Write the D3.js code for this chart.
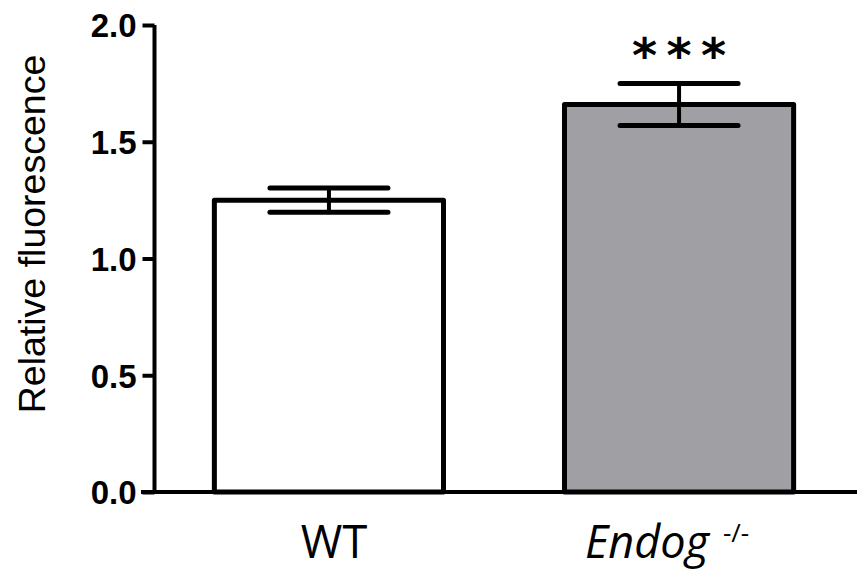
<!DOCTYPE html>
<html><head><meta charset="utf-8">
<script src="https://cdn.jsdelivr.net/npm/d3@7"></script>
<style>body{margin:0;background:#fff}svg{display:block}</style>
</head><body>
<script>
const categories = ["WT", "Endog"];
const means = [1.25, 1.66];
const errors = [0.052, 0.09];
const fills = ["#ffffff", "#a0a0a4"];
const yTicks = [0, 0.5, 1.0, 1.5, 2.0];
const sigLabels = ["", "***"];

const W = 857, H = 571;
const svg = d3.select("body").append("svg").attr("width", W).attr("height", H);

const y = d3.scaleLinear().domain([0, 2]).range([492, 25]);
const x = d3.scaleBand().domain(categories).range([153, 855]).paddingInner(0.337).paddingOuter(0.171);

// bars
svg.selectAll("rect.bar").data(categories).enter().append("rect")
  .attr("x", d => x(d) + 1.5)
  .attr("width", x.bandwidth() - 3)
  .attr("y", (d, i) => y(means[i]))
  .attr("height", (d, i) => y(0) - y(means[i]))
  .attr("fill", (d, i) => fills[i])
  .attr("stroke", "#000").attr("stroke-width", 5).attr("stroke-linejoin", "round");

// error bars
const capW = 118;
categories.forEach((c, i) => {
  const cx = x(c) + x.bandwidth() / 2;
  const g = svg.append("g").attr("stroke", "#000").attr("stroke-linecap", "round");
  g.append("line").attr("x1", cx).attr("x2", cx).attr("y1", y(means[i] + errors[i])).attr("y2", y(means[i] - errors[i])).attr("stroke-width", 4);
  [means[i] + errors[i], means[i] - errors[i]].forEach(v => {
    g.append("line").attr("x1", cx - capW / 2).attr("x2", cx + capW / 2).attr("y1", y(v)).attr("y2", y(v)).attr("stroke-width", 5);
  });
  if (sigLabels[i]) {
    const st = svg.append("g");
    sigLabels[i].split("").forEach((s, k) => {
      st.append("text").attr("x", cx - 34.5 + k * 34.5).attr("y", y(means[i] + errors[i]) - 11)
        .attr("text-anchor", "middle").attr("font-family", "DejaVu Sans, sans-serif")
        .attr("font-weight", "bold").attr("font-size", 48).text(s);
    });
  }
});

// y axis
const yAxis = d3.axisLeft(y).tickValues(yTicks).tickFormat(d3.format(".1f")).tickSize(12).tickPadding(6);
const ya = svg.append("g").attr("transform", "translate(154.5,0)").call(yAxis);
ya.select(".domain").attr("stroke-width", 4).attr("d", `M0,${y(2)}V${y(0)}`);
ya.selectAll(".tick line").attr("stroke-width", 4);
ya.selectAll(".tick text").attr("font-family", "Liberation Sans, Arial, sans-serif").attr("font-weight", "bold").attr("font-size", 33).attr("fill", "#000").attr("dy", "0.36em");

// x baseline
svg.append("line").attr("x1", 141).attr("x2", 857).attr("y1", y(0)).attr("y2", y(0)).attr("stroke", "#000").attr("stroke-width", 4);

// x labels
const labFont = "Open Sans, Segoe UI, sans-serif";
svg.append("text").attr("x", 334).attr("y", 558)
  .attr("text-anchor", "middle").attr("font-family", labFont).attr("font-size", 45).text("WT");
const t2 = svg.append("text").attr("x", 585).attr("y", 558)
  .attr("text-anchor", "start").attr("font-family", labFont).attr("font-size", 45);
t2.append("tspan").attr("font-style", "italic").text("Endog");
t2.append("tspan").attr("font-size", 26).attr("dy", -16).attr("dx", 14).text("-/-");

// y title
svg.append("text").attr("transform", "translate(45,234) rotate(-90)")
  .attr("text-anchor", "middle").attr("font-family", "Liberation Sans, Arial, sans-serif")
  .attr("font-size", 37.5).text("Relative fluorescence");
</script>
</body></html>
